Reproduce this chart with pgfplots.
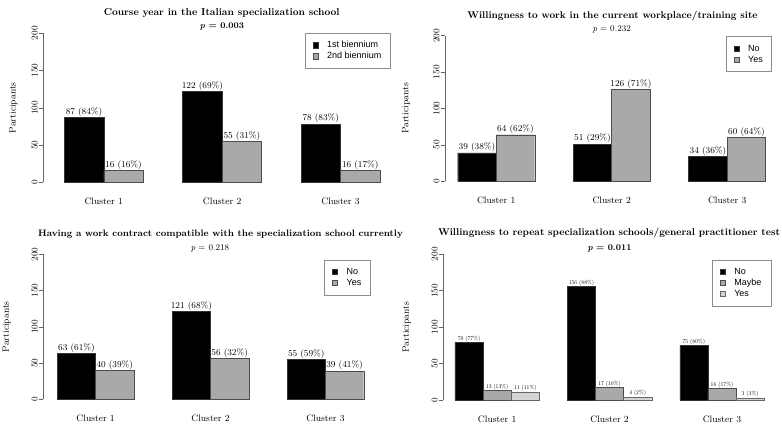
\documentclass[border=0pt]{standalone}
\usepackage{pgfplots}
\pgfplotsset{compat=1.18}
\usepackage{fontspec}
\newfontfamily\legfont{Liberation Sans}
\definecolor{bargray}{HTML}{A9A9A9}
\definecolor{barlight}{HTML}{D3D3D3}
\pgfplotsset{
  panel/.style={
    scale only axis, enlargelimits=false, ymin=0, ymax=200,
    axis x line*=bottom, axis y line*=left,
    x axis line style={draw=none},
    y axis line style={draw=black!60, line width=0.5pt},
    ytick={0,50,100,150,200},
    ytick style={draw=black!60, line width=0.5pt},
    xtick style={draw=none},
    tick align=outside, major tick length=4.5pt,
    yticklabel style={rotate=90, anchor=south, inner sep=1pt, font=\fontsize{9}{10}\selectfont},
    xticklabel style={anchor=base, yshift=-18pt, font=\fontsize{9.3}{10}\selectfont},
    ybar=0pt, bar width=1,
    point meta=explicit symbolic,
    nodes near coords={\pgfplotspointmeta},
    every node near coord/.append style={font=\fontsize{9}{10}\selectfont, inner sep=0.8pt},
    legend image code/.code={\draw[#1, line width=0.4pt] (0pt,-2.6pt) rectangle (5.2pt,2.6pt);},
    legend style={anchor=north east, legend cell align=left, draw=black!45, line width=0.5pt,
      font=\legfont\fontsize{9}{10}\selectfont, inner xsep=7.5pt, inner ysep=7pt,
      nodes={inner sep=1pt, text height=6.4pt, text depth=1.6pt},
      row sep=1pt, column sep=8pt},
    clip=false,
  },
  ylab/.style={ylabel=Participants,
    every axis y label/.style={at={(axis description cs:#1,0.5)}, rotate=90, anchor=center, font=\fontsize{9.3}{10}\selectfont}},
}
\begin{document}
\begin{tikzpicture}[x=1pt,y=1pt]
\path[use as bounding box] (0,0) rectangle (782,425);

% Top-left
\begin{axis}[panel, at={(43.3pt,242.7pt)}, anchor=south west,
  width=349.3pt, height=149pt, xmin=0.468, xmax=9.32,
  xtick={2,5,8}, xticklabels={Cluster 1,Cluster 2,Cluster 3},
  ylab=-0.0859,
  legend style={at={(axis description cs:0.9926,1.002)}}]
\addplot[fill=black, draw=black!80] coordinates {(2,87) [87 (84\%)] (5,122) [122 (69\%)] (8,78) [78 (83\%)]};
\addplot[fill=bargray, draw=black!70] coordinates {(2,16) [16 (16\%)] (5,55) [55 (31\%)] (8,16) [16 (17\%)]};
\legend{1st biennium, 2nd biennium}
\end{axis}

% Top-right
\begin{axis}[panel, at={(445pt,243.7pt)}, anchor=south west,
  width=333pt, height=145.6pt, xmin=0.67, xmax=9.32,
  xtick={2,5,8}, xticklabels={Cluster 1,Cluster 2,Cluster 3},
  ylab=-0.117,
  legend style={at={(axis description cs:0.981,0.995)}}]
\addplot[fill=black, draw=black!80] coordinates {(2,39) [39 (38\%)] (5,51) [51 (29\%)] (8,34) [34 (36\%)]};
\addplot[fill=bargray, draw=black!70] coordinates {(2,64) [64 (62\%)] (5,126) [126 (71\%)] (8,60) [60 (64\%)]};
\legend{No, Yes}
\end{axis}

% Bottom-left
\begin{axis}[panel, at={(43.3pt,25.7pt)}, anchor=south west,
  width=332.7pt, height=145pt, xmin=0.634, xmax=9.32,
  xtick={2,5,8}, xticklabels={Cluster 1,Cluster 2,Cluster 3},
  ylab=-0.1106,
  legend style={at={(axis description cs:0.982,0.963)}}]
\addplot[fill=black, draw=black!80] coordinates {(2,63) [63 (61\%)] (5,121) [121 (68\%)] (8,55) [55 (59\%)]};
\addplot[fill=bargray, draw=black!70] coordinates {(2,40) [40 (39\%)] (5,56) [56 (32\%)] (8,39) [39 (41\%)]};
\legend{No, Yes}
\end{axis}

% Bottom-right
\begin{axis}[panel, at={(443.3pt,25pt)}, anchor=south west,
  width=333.2pt, height=145.7pt, xmin=0.584, xmax=12.44,
  xtick={2.5,6.5,10.5}, xticklabels={Cluster 1,Cluster 2,Cluster 3},
  ylab=-0.1104,
  every node near coord/.append style={font=\fontsize{10}{11}\selectfont, scale=0.57, inner sep=1.2pt},
  legend style={at={(axis description cs:0.9835,0.963)}, nodes={text width=28pt}}]
\addplot[fill=black, draw=black!80] coordinates {(2.5,79) [79 (77\%)] (6.5,156) [156 (88\%)] (10.5,75) [75 (80\%)]};
\addplot[fill=bargray, draw=black!70] coordinates {(2.5,13) [13 (13\%)] (6.5,17) [17 (10\%)] (10.5,16) [16 (17\%)]};
\addplot[fill=barlight, draw=black!60] coordinates {(2.5,11) [11 (11\%)] (6.5,4) [4 (2\%)] (10.5,3) [3 (3\%)]};
\legend{No, Maybe, Yes}
\end{axis}

% Titles
\node[anchor=base, font=\fontsize{10}{12}\selectfont\bfseries] at (221.7,409.5) {Course year in the Italian specialization school};
\node[anchor=base, font=\fontsize{8.8}{10}\selectfont\bfseries] at (222,396) {\textit{p} = 0.003};
\node[anchor=base, font=\fontsize{9.85}{12}\selectfont\bfseries] at (612.5,406.5) {Willingness to work in the current workplace/training site};
\node[anchor=base, font=\fontsize{8.8}{10}\selectfont] at (611.7,393) {\textit{p} = 0.232};
\node[anchor=base, font=\fontsize{9.35}{12}\selectfont\bfseries] at (220.5,188) {Having a work contract compatible with the specialization school currently};
\node[anchor=base, font=\fontsize{8.8}{10}\selectfont] at (210,174) {\textit{p} = 0.218};
\node[anchor=base, font=\fontsize{9.9}{12}\selectfont\bfseries] at (609,189) {Willingness to repeat specialization schools/general practitioner test};
\node[anchor=base, font=\fontsize{8.8}{10}\selectfont\bfseries] at (609.5,174) {\textit{p} = 0.011};
\end{tikzpicture}
\end{document}
